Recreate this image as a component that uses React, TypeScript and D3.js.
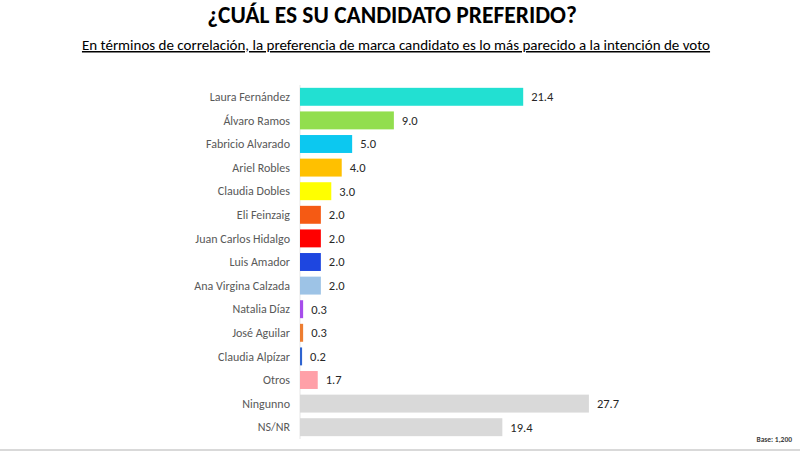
import React from 'react';
import * as d3 from 'd3';

const candidates = [
  'Laura Fernández', 'Álvaro Ramos', 'Fabricio Alvarado', 'Ariel Robles', 'Claudia Dobles',
  'Eli Feinzaig', 'Juan Carlos Hidalgo', 'Luis Amador', 'Ana Virgina Calzada', 'Natalia Díaz',
  'José Aguilar', 'Claudia Alpízar', 'Otros', 'Ningunno', 'NS/NR',
];
const values = [21.4, 9.0, 5.0, 4.0, 3.0, 2.0, 2.0, 2.0, 2.0, 0.3, 0.3, 0.2, 1.7, 27.7, 19.4];
const colors = [
  '#22e0d2', '#92de4e', '#0cc8f0', '#ffc000', '#ffff00', '#f55a14', '#ff0000', '#1e46e0',
  '#9dc3e6', '#a64deb', '#ed7d31', '#2e64d0', '#ffa0a8', '#d9d9d9', '#d9d9d9',
];

const W = 800;
const H = 452;
const FONT = 'Carlito, "Liberation Sans Narrow", "Open Sans", sans-serif';

export default function App() {
  const x = d3.scaleLinear().domain([0, 30]).range([300, 300 + 30 * 10.43]);
  const y = d3.scaleBand<string>().domain(candidates).range([85, 439]).paddingInner(0.24).paddingOuter(0.12);

  React.useEffect(() => {
    document.body.style.margin = '0';
  }, []);

  return (
    <svg width={W} height={H} style={{ display: 'block', fontFamily: FONT }}>
      <rect width={W} height={H} fill="#ffffff" />
      <text x={392} y={23} textAnchor="middle" fontSize={23.5} fontWeight="bold" fill="#000">
        ¿CUÁL ES SU CANDIDATO PREFERIDO?
      </text>
      <text x={396} y={50} textAnchor="middle" fontSize={15} fill="#000" textDecoration="underline">
        En términos de correlación, la preferencia de marca candidato es lo más parecido a la intención de voto
      </text>

      <line x1={x(0)} x2={x(0)} y1={85} y2={439} stroke="#e6e6e6" strokeWidth={1} />

      {candidates.map((c, i) => {
        const yy = y(c) as number;
        const bh = y.bandwidth();
        return (
          <g key={c}>
            <text x={290} y={yy + bh / 2} dy="0.35em" textAnchor="end" fontSize={12} fill="#595959">
              {c}
            </text>
            <rect x={x(0)} y={yy} width={x(values[i]) - x(0)} height={bh} fill={colors[i]} />
            <text x={x(values[i]) + 8} y={yy + bh / 2} dy="0.35em" fontSize={12.5} fill="#262626">
              {values[i].toFixed(1)}
            </text>
          </g>
        );
      })}

      <text x={792} y={442} textAnchor="end" fontSize={7.5} fontWeight="bold" fill="#404040">
        Base: 1,200
      </text>
      <line x1={0} x2={W} y1={450} y2={450} stroke="#d9d9d9" strokeWidth={2} />
    </svg>
  );
}
